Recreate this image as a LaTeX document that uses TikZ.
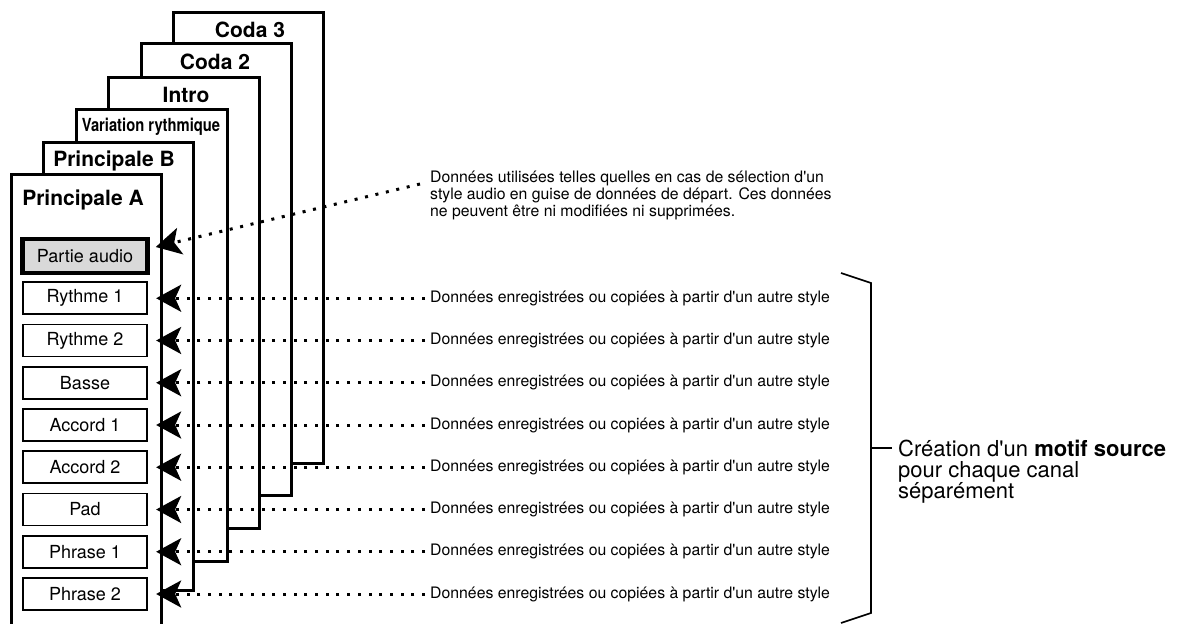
\documentclass[tikz,border=0pt]{standalone}
\usepackage{fontspec}
\usepackage{graphicx}
\setmainfont{TeX Gyre Heros}
\usetikzlibrary{arrows.meta}
\tikzset{
  card/.style={draw,fill=white,line width=3pt},
  cardtitle/.style={font=\bfseries\fontsize{21}{24}\selectfont},
  chan/.style={draw,fill=white,line width=1.8pt,minimum width=124.5pt,minimum height=32pt,inner sep=0pt,font=\fontsize{18}{20}\selectfont},
  feed/.style={line width=3pt,dash pattern=on 3pt off 7.7pt,-{Stealth[length=25pt,width=27pt,inset=6pt]}},
  note/.style={anchor=west,inner sep=5pt,font=\fontsize{15.8}{16.8}\selectfont}
}
\begin{document}
\begin{tikzpicture}[x=1pt,y=-1pt]
\useasboundingbox (0,0) rectangle (1184,624);

% cards, back to front
\draw[card] (173,12) rectangle (323,463);
\node[cardtitle] (coda3) at (250,30) {Coda 3};
\draw[card] (141,43) rectangle (291,495);
\node[cardtitle] (coda2) at (215,62) {Coda 2};
\draw[card] (108,77) rectangle (259,528);
\node[cardtitle] (intro) at (186,95) {Intro};
\draw[card] (76,109) rectangle (227,561);
\node[cardtitle,font=\bfseries\fontsize{18}{20}\selectfont] (var) at (151,127) {\scalebox{0.82}[1]{Variation rythmique}};
\draw[card] (43,142) rectangle (193,590);
\node[cardtitle] (mainb) at (114,161) {Principale B};
\draw[card] (11,640) |- (161,174) -- (161,640);
\node[cardtitle] (maina) at (83,200) {Principale A};

% audio part
\node[chan,fill=black!15,line width=4.5pt,minimum width=125pt,minimum height=34pt] (audio) at (85,256) {Partie audio};
\node[note,anchor=north west,align=left] (dnote) at (425,166) {Données utilisées telles quelles en cas de sélection d\textquotesingle un\\style audio en guise de données de départ. Ces données\\ne peuvent être ni modifiées ni supprimées.};
\coordinate (nstart) at (420,184);
\draw[feed] (nstart) -- ([shift={(6,-9)}]audio.east);

% channels
\foreach \n/\t [count=\k] in {r1/Rythme 1,r2/Rythme 2,bass/Basse,ch1/Accord 1,ch2/Accord 2,pad/Pad,ph1/Phrase 1,ph2/Phrase 2} {
  \node[chan] (\n) at (85,256+42.25*\k) {\t};
  \node[note] (d\n) at (425,256+42.25*\k) {Données enregistrées ou copiées à partir d\textquotesingle un autre style};
  \draw[feed] (d\n.west) -- ([xshift=8pt]\n.east);
}

% bracket
\draw[line width=1.7pt] (841,273) -- (871,283) -- (871,613) -- (841,623);
\coordinate (brk) at (871,448);
\node[anchor=north west,align=left,inner sep=6pt,font=\fontsize{22}{21}\selectfont] (motif) at (892,434) {Création d\textquotesingle un \textbf{motif source}\\pour chaque canal\\séparément};
\draw[line width=1.7pt] (brk) -- (brk -| motif.west);
\end{tikzpicture}
\end{document}
